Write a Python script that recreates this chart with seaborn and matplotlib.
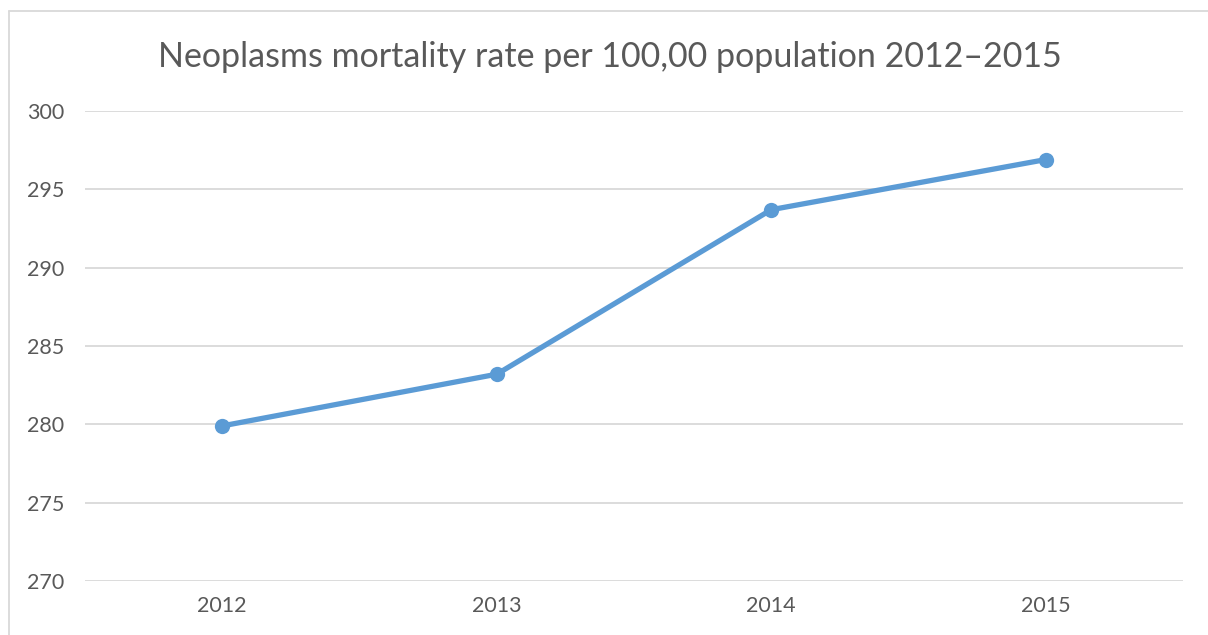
import matplotlib
matplotlib.use("Agg")
import matplotlib.pyplot as plt
from matplotlib.lines import Line2D
import seaborn as sns
import pandas as pd

years = ["2012", "2013", "2014", "2015"]
rates = [279.9, 283.2, 293.7, 296.9]
y_ticks = [270, 275, 280, 285, 290, 295, 300]
title = "Neoplasms mortality rate per 100,00 population 2012\u20132015"

sns.set_theme(style="white")
plt.rcParams["font.family"] = ["Lato", "DejaVu Sans"]

df = pd.DataFrame({"pos": range(len(years)), "year": years, "rate": rates})

fig = plt.figure(figsize=(12.08, 6.35), dpi=100)
ax = fig.add_axes([85 / 1208, 54 / 635, (1183 - 85) / 1208, (581 - 111) / 635])

line_color = "#5B9BD5"
text_color = "#595959"
grid_color = "#D9D9D9"

sns.lineplot(data=df, x="pos", y="rate", ax=ax, color=line_color, linewidth=3.8,
             marker="o", markersize=11, markeredgewidth=0, markerfacecolor=line_color,
             zorder=3)

ax.set_xlim(-0.5, len(years) - 0.5)
ax.set_ylim(y_ticks[0], y_ticks[-1])
ax.set_xticks(df["pos"])
ax.set_xticklabels(years)
ax.set_yticks(y_ticks)
ax.set_xlabel("")
ax.set_ylabel("")

for v in y_ticks:
    ax.axhline(v, color=grid_color, linewidth=1.3, zorder=1)

for s in ax.spines.values():
    s.set_visible(False)

ax.tick_params(axis="y", length=0, pad=15, labelsize=15.5, labelcolor=text_color)
ax.tick_params(axis="x", length=0, pad=11, labelsize=15.5, labelcolor=text_color)

fig.text(610 / 1208, 1 - 57 / 635, title, ha="center", va="center",
         fontsize=24.5, color=text_color)

# chart frame
fig.add_artist(Line2D([9 / 1208, 9 / 1208], [0, 1 - 11 / 635], transform=fig.transFigure,
                      color=grid_color, linewidth=1.3))
fig.add_artist(Line2D([9 / 1208, 1], [1 - 11 / 635, 1 - 11 / 635], transform=fig.transFigure,
                      color=grid_color, linewidth=1.3))

fig.savefig("out.png", dpi=100, facecolor="white")
